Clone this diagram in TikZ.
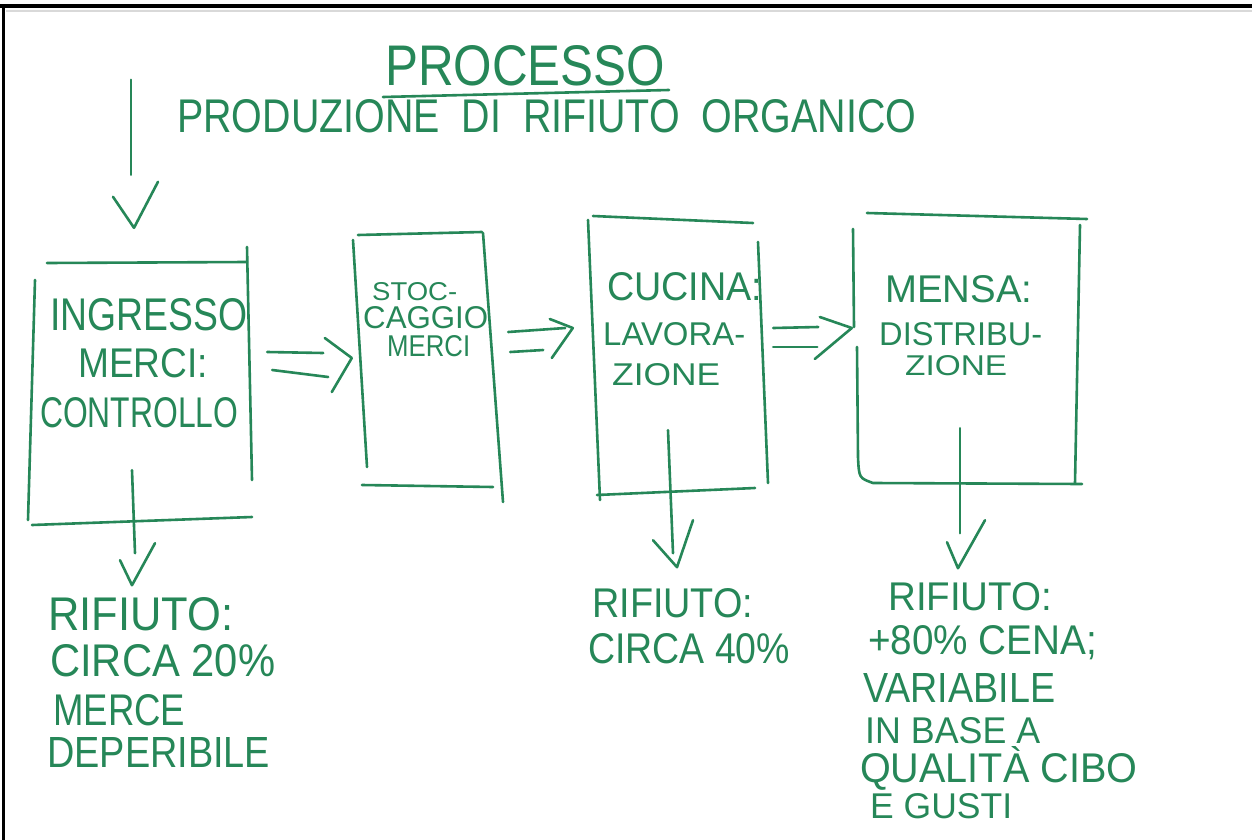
\documentclass[tikz,border=0pt]{standalone}
\usepackage{fontspec}
\setmainfont{Liberation Sans}
\usetikzlibrary{calc}
\definecolor{ink}{RGB}{38,135,88}
% scale a line of handwriting to a given width and cap height
\newcommand\hw[3]{\resizebox{#1pt}{#2pt}{#3}}
\tikzset{
  pen/.style={draw=ink, line width=2.6pt, line cap=round, line join=round},
  lbl/.style={text=ink, inner sep=0pt, anchor=base west},
  stage/.style={draw=none, inner sep=0pt, rectangle},
}
\begin{document}
\begin{tikzpicture}[x=1pt, y=-1pt]
\useasboundingbox (0,0) rectangle (1252,840);
\fill[white] (0,0) rectangle (1252,840);

% sheet frame
\draw[black!15, line width=2pt] (6,11) -- (1252,11);
\draw[black, line width=3.5pt] (0,6) -- (1252,6);
\draw[black, line width=3pt] (3,6) -- (3,840);

% heading
\node[lbl] (title) at (385,86) {\hw{280}{40}{PROCESSO}};
\draw[pen] (383,97) -- (669,90);
\node[lbl] (subtitle) at (177,132) {\hw{739}{33}{PRODUZIONE\ \ DI\ \ RIFIUTO\ \ ORGANICO}};

% stage areas
\node[stage, minimum width=220, minimum height=260] (b1) at (140,392) {};
\node[stage, minimum width=133, minimum height=254] (b2) at (426.5,360) {};
\node[stage, minimum width=169, minimum height=274] (b3) at (678.5,356) {};
\node[stage, minimum width=223, minimum height=268] (b4) at (966.5,350) {};

% box outlines, drawn stroke by stroke
\draw[pen] (47,263) -- (247,262);
\draw[pen] (35,280) -- (28,520);
\draw[pen] (247,247) -- (252,480);
\draw[pen] (32,525) -- (252,517);

\draw[pen] (358,235) -- (482,232);
\draw[pen] (353,240) -- (367,467);
\draw[pen] (483,233) -- (503,502);
\draw[pen] (362,485) -- (493,487);

\draw[pen] (593,216) -- (753,223);
\draw[pen] (588,220) -- (600,500);
\draw[pen] (758,242) -- (768,483);
\draw[pen] (597,495) -- (755,488);

\draw[pen] (867,213) -- (1087,219);
\draw[pen] (853,229) -- (854,327);
\draw[pen] (857,347) -- (858,457) .. controls (859,478) .. (873,483) -- (1082,484);
\draw[pen] (1080,225) -- (1075,483);

% stage texts
\node[lbl] (in1) at (50,330) {\hw{197}{32}{INGRESSO}};
\node[lbl] (in2) at (78,377) {\hw{130}{29}{MERCI:}};
\node[lbl] (in3) at (40,427) {\hw{198}{30}{CONTROLLO}};

\node[lbl] (st1) at (372,300) {\hw{85}{18}{STOC-}};
\node[lbl] (st2) at (363,328) {\hw{125}{22}{CAGGIO}};
\node[lbl] (st3) at (387,356) {\hw{83}{21}{MERCI}};

\node[lbl] (cu1) at (607,300) {\hw{155}{28}{CUCINA:}};
\node[lbl] (cu2) at (603,345) {\hw{142}{23}{LAVORA-}};
\node[lbl] (cu3) at (612,385) {\hw{108}{22}{ZIONE}};

\node[lbl] (me1) at (885,302) {\hw{147}{27}{MENSA:}};
\node[lbl] (me2) at (879,345) {\hw{163}{23}{DISTRIBU-}};
\node[lbl] (me3) at (905,375) {\hw{102}{20}{ZIONE}};

% waste notes
\node[lbl] (r1a) at (48,630) {\hw{185}{33}{RIFIUTO:}};
\node[lbl] (r1b) at (50,676) {\hw{225}{32}{CIRCA 20\%}};
\node[lbl] (r1c) at (53,725) {\hw{132}{31}{MERCE}};
\node[lbl] (r1d) at (47,767) {\hw{223}{30}{DEPERIBILE}};

\node[lbl] (r3a) at (592,617) {\hw{161}{29}{RIFIUTO:}};
\node[lbl] (r3b) at (588,663) {\hw{202}{30}{CIRCA 40\%}};

\node[lbl] (r4a) at (888,610) {\hw{164}{28}{RIFIUTO:}};
\node[lbl] (r4b) at (868,654) {\hw{229}{29}{+80\% CENA;}};
\node[lbl] (r4c) at (863,702) {\hw{192}{29}{VARIABILE}};
\node[lbl] (r4d) at (865,743) {\hw{175}{26}{IN BASE A}};
\node[lbl] (r4e) at (860,782) {\hw{277}{36}{QUALITÀ CIBO}};
\node[lbl] (r4f) at (870,818) {\hw{142}{25}{E GUSTI}};

% entry arrow into the first stage
\draw[pen] ($(b1.north)+(-9,-182)$) -- ++(0,95);
\draw[pen] ($(b1.north)+(-27,-65)$) -- ($(b1.north)+(-6,-34)$) -- ($(b1.north)+(18,-80)$);

% double arrows between stages
\draw[pen] ($(b1.east)+(17,-40)$) -- ++(56,1);
\draw[pen] ($(b1.east)+(22,-22)$) -- ++(56,7);
\draw[pen] ($(b2.west)+(-35,-22)$) -- ($(b2.west)+(-8,-2)$) -- ($(b2.west)+(-28,32)$);

\draw[pen] ($(b2.east)+(15,-28)$) -- ++(57,-4);
\draw[pen] ($(b2.east)+(17,-8)$) -- ++(33,-2);
\draw[pen] ($(b3.west)+(-44,-37)$) -- ($(b3.west)+(-21,-28)$) -- ($(b3.west)+(-42,2)$);

\draw[pen] ($(b3.east)+(10,-28)$) -- ++(45,-1);
\draw[pen] ($(b3.east)+(10,-9)$) -- ++(44,0);
\draw[pen] ($(b4.west)+(-35,-33)$) -- ($(b4.west)+(-3,-22)$) -- ($(b4.west)+(-40,9)$);

% waste arrows
\draw[pen] ($(b1.south)+(-8,-52)$) -- ++(3,83);
\draw[pen] ($(b1.south)+(-20,38)$) -- ($(b1.south)+(-8,63)$) -- ($(b1.south)+(15,21)$);

\draw[pen] ($(b3.south)+(-10.5,-63)$) -- ++(5,123);
\draw[pen] ($(b3.south)+(-25.5,47)$) -- ($(b3.south)+(-1.5,74)$) -- ($(b3.south)+(14.5,27)$);

\draw[pen] ($(b4.south)+(-6.5,-56)$) -- ++(0,105);
\draw[pen] ($(b4.south)+(-19.5,58)$) -- ($(b4.south)+(-8.5,84)$) -- ($(b4.south)+(18.5,36)$);
\end{tikzpicture}
\end{document}
